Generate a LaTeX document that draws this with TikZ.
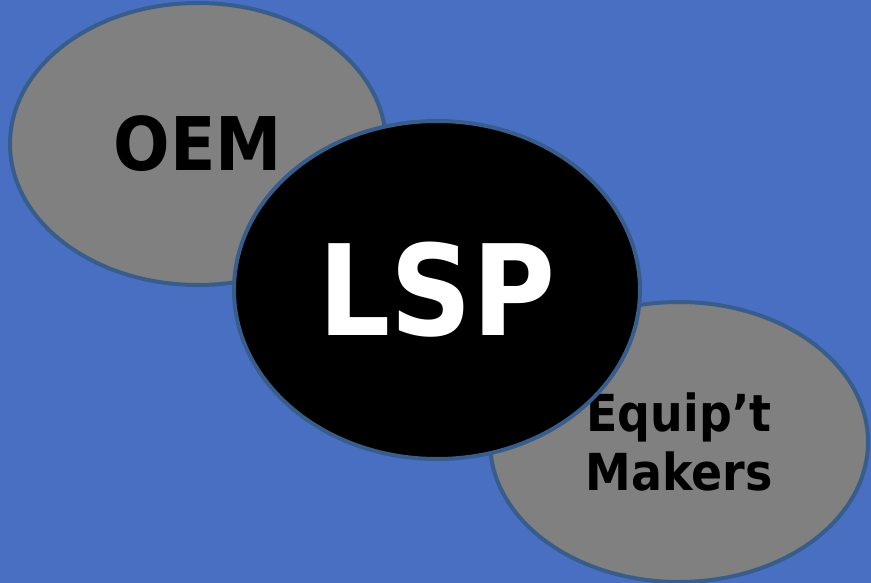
\documentclass[tikz,border=0pt]{standalone}
\usepackage{fontspec}
\setmainfont{DejaVu Sans Condensed}
\usetikzlibrary{shapes.geometric}
\definecolor{slideblue}{RGB}{73,111,194}
\definecolor{rimblue}{RGB}{56,93,138}
\definecolor{partgray}{RGB}{128,128,128}
\begin{document}
\begin{tikzpicture}[x=1pt,y=-1pt]
    % Styles for the ellipses
    \tikzset{partner/.style={ellipse, draw=rimblue, line width=4pt, fill=partgray,
        text=black, font=\bfseries, align=center}}
    \tikzset{hub/.style={ellipse, draw=rimblue, line width=4pt, fill=black,
        text=white, font=\bfseries}}

    % Background
    \fill[slideblue] (0,0) rectangle (871,583);
    \useasboundingbox (0,0) rectangle (871,583);

    % OEM
    \node[partner, minimum width=376pt, minimum height=282pt,
        font=\bfseries\fontsize{74}{80}\selectfont] (oem) at (198,144) {OEM};

    % Equip't Makers
    \node[partner, minimum width=378pt, minimum height=280pt,
        font=\bfseries\fontsize{51}{59}\selectfont] (equip) at (679,442) {Equip’t\\Makers};

    % LSP
    \node[hub, minimum width=406pt, minimum height=338pt,
        font=\bfseries\fontsize{126}{130}\selectfont] (lsp) at (437,290) {LSP};
\end{tikzpicture}
\end{document}
